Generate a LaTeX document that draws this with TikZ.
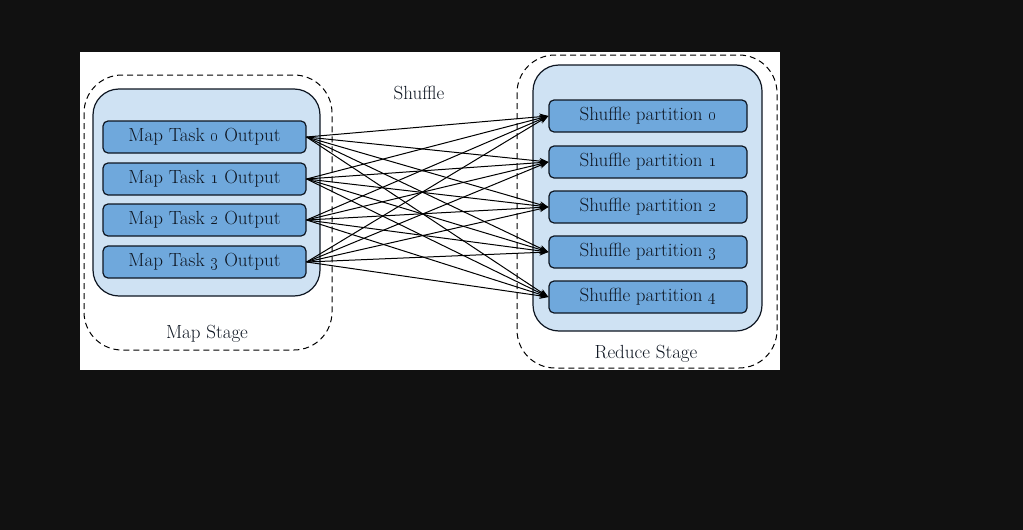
\documentclass[tikz,border=0pt]{standalone}
\usepackage{tikz}
\usetikzlibrary{arrows.meta}
\definecolor{bgdark}{HTML}{111111}
\definecolor{stagefill}{HTML}{CFE2F3}
\definecolor{taskfill}{HTML}{6FA8DC}
\definecolor{inkdark}{HTML}{0E1622}
\tikzset{
  taskbox/.style = {draw=inkdark, fill=taskfill, line width=1.2pt, rounded corners=5pt,
    minimum width=203pt, minimum height=32pt, inner sep=0pt, text=inkdark,
    font=\fontsize{19}{21}\selectfont},
  stagebox/.style = {draw=inkdark, fill=stagefill, line width=1.2pt, rounded corners=26pt},
  stagedash/.style = {draw=black, dash pattern=on 6pt off 4pt, line width=1pt, rounded corners=38pt},
  caption/.style = {text=inkdark, font=\fontsize{19}{21}\selectfont},
  edge/.style = {line width=1pt, -{Stealth[length=9pt,width=6.5pt]}}
}
\begin{document}
\begin{tikzpicture}[x=1pt,y=-1pt]
    \useasboundingbox (0,0) rectangle (1023,530);
    \fill[bgdark] (0,0) rectangle (1023,530);
    \fill[white] (80,52) rectangle (780,370);
    % Stages
    \draw[stagedash] (84,75) rectangle (332,350);
    \draw[stagebox] (93,89) rectangle (320,296);
    \draw[stagedash] (517,55) rectangle (777,368);
    \draw[stagebox] (533,65) rectangle (762,331);
    % Map output
    \foreach \i/\y in {0/137,1/179,2/220,3/262}
    {
    \node[taskbox] (m\i) at (204.5,\y) {Map Task \oldstylenums{\i} Output};
    }
    % Shuffle partition
    \foreach \j/\y in {0/116,1/162,2/207,3/252,4/297}
    {
    \node[taskbox, minimum width=198pt] (p\j) at (648,\y) {Shuffle partition \oldstylenums{\j}};
    }
    \node[caption] (shuffle) at (419,93) {Shuffle};
    \node[caption] (mapstage) at (207,334) {Map Stage};
    \node[caption] (reducestage) at (646,354) {Reduce Stage};
    % Shuffle edges
    \foreach \i in {0,...,3}
    {
    \foreach \j in {0,...,4}
    {
    \draw[edge] (m\i.east) -- (p\j.west);
    }
    }
\end{tikzpicture}
\end{document}
